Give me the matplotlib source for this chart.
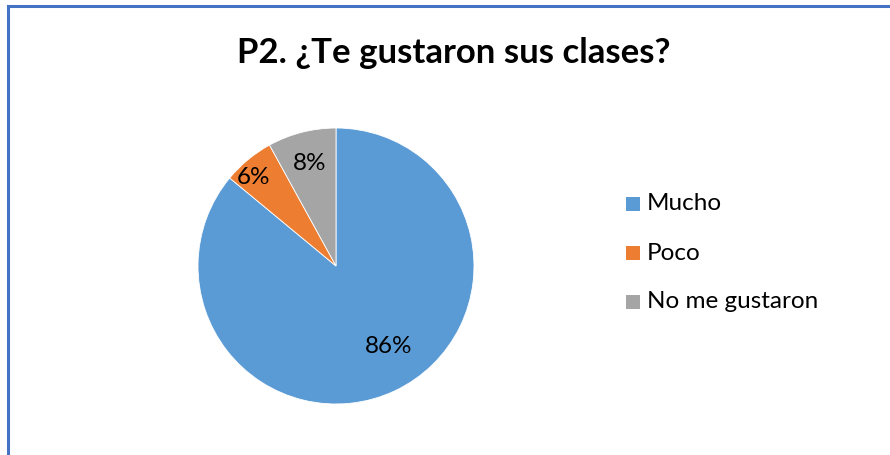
import numpy as np
import matplotlib
matplotlib.use("Agg")
import matplotlib.pyplot as plt
from matplotlib.lines import Line2D
from matplotlib.patches import Rectangle

plt.rcParams['font.family'] = ['Lato', 'DejaVu Sans']

title = "P2. ¿Te gustaron sus clases?"
labels = ["Mucho", "Poco", "No me gustaron"]
values = [86, 6, 8]
colors = ["#5B9BD5", "#ED7D31", "#A5A5A5"]
# label placement: fraction of radius and angle nudge (deg) from wedge middle
label_dist = [0.70, 0.88, 0.77]
label_shift = [8.0, 3.4, 0.0]

W, H = 890, 455
fig = plt.figure(figsize=(W / 100, H / 100), dpi=100)

# frame (only left and top edges visible in the crop)
fig.add_artist(Line2D([7.5 / W, 7.5 / W], [0, 1 - 5.5 / H], color="#4472C4", lw=2.2))
fig.add_artist(Line2D([7.5 / W, 1], [1 - 5.5 / H, 1 - 5.5 / H], color="#4472C4", lw=2.2))

fig.text(454 / W, 1 - 53 / H, title, ha="center", va="center",
         fontsize=25, fontweight="bold", color="black")

# pie axes: center (336, 266), radius 138 px
cx, cy, r = 336, 266, 138
ax = fig.add_axes([(cx - r) / W, (H - cy - r) / H, 2 * r / W, 2 * r / H])
wedges, _ = ax.pie(values, colors=colors, startangle=90, counterclock=False,
                   radius=1, wedgeprops=dict(edgecolor="white", linewidth=0.6))
ax.set_xlim(-1, 1)
ax.set_ylim(-1, 1)
ax.set_aspect("equal")
ax.axis("off")

for w, v, d, s in zip(wedges, values, label_dist, label_shift):
    ang = np.deg2rad((w.theta1 + w.theta2) / 2 + s)
    ax.text(d * np.cos(ang), d * np.sin(ang), f"{v}%", ha="center", va="center",
            fontsize=17.5, color="black")

# legend
lx, ly0, dy, sq = 626, 204, 49, 14
for i, (lab, c) in enumerate(zip(labels, colors)):
    y = ly0 + i * dy
    fig.add_artist(Rectangle((lx / W, 1 - (y + sq / 2) / H), sq / W, sq / H,
                             facecolor=c, edgecolor="none"))
    fig.text((lx + sq + 7) / W, 1 - y / H, lab, ha="left", va="center",
             fontsize=17.5, color="black")

fig.savefig("out.png", dpi=100)
